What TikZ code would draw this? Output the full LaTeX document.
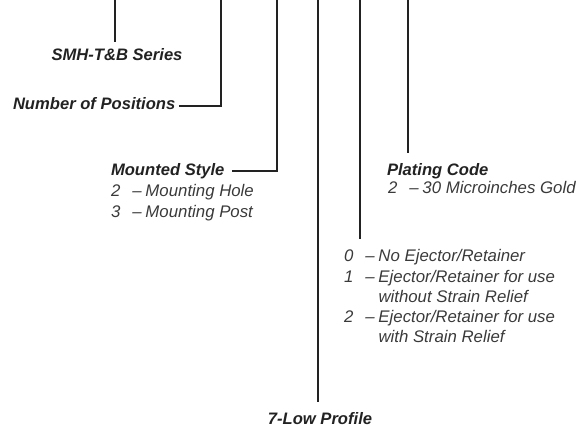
\documentclass[tikz,border=0pt]{standalone}
\usepackage{fontspec}
\setmainfont{Liberation Sans}
\definecolor{ink}{HTML}{222222}
\definecolor{itemink}{HTML}{3A3A3A}
\newcommand{\itm}[2]{\makebox[21.5pt][l]{#1}\makebox[13pt][l]{–}#2}
\newcommand{\cnt}[1]{\hspace*{34.5pt}#1}
\begin{document}
\begin{tikzpicture}[x=1pt,y=-1pt,
  hd/.style={inner sep=0pt, outer sep=0pt, font=\fontsize{16.6}{19}\selectfont\bfseries\itshape, text=ink},
  it/.style={inner sep=0pt, outer sep=0pt, font=\fontsize{16.8}{19}\selectfont\itshape, text=itemink, anchor=base west},
  lead/.style={draw=ink, line width=2.8pt, line join=miter}]
\useasboundingbox (0,0) rectangle (585,427);
% top ends of leaders
\coordinate (t1) at (115,0);
\coordinate (t2) at (221,0);
\coordinate (t3) at (277,0);
\coordinate (t4) at (318,0);
\coordinate (t5) at (360,0);
\coordinate (t6) at (408,0);
% texts
\node[hd, anchor=base] (smh) at (117,61) {SMH-T\&B Series};
\node[hd, anchor=base west] (npos) at (13,110) {Number of Positions};
\node[hd, anchor=base west] (mst) at (111,176) {Mounted Style};
\node[it] (m2) at (111,197) {\itm{2}{Mounting Hole}};
\node[it] (m3) at (111,218) {\itm{3}{Mounting Post}};
\node[hd, anchor=base west] (pc) at (387,176) {Plating Code};
\node[it] (p2) at (388,194) {\itm{2}{30 Microinches Gold}};
\node[it] (e0) at (344,261) {\itm{0}{No Ejector/Retainer}};
\node[it] (e1) at (344,282) {\itm{1}{Ejector/Retainer for use}};
\node[it] (e1b) at (344,302) {\cnt{without Strain Relief}};
\node[it] (e2) at (344,322) {\itm{2}{Ejector/Retainer for use}};
\node[it] (e2b) at (344,342) {\cnt{with Strain Relief}};
\node[hd, anchor=base] (lp) at (320,424) {7-Low Profile};
% leaders
\draw[lead] (t1) -- ([yshift=7pt]t1 |- smh.north);
\draw[lead] (t2) |- ([shift={(4,-4)}]npos.base east);
\draw[lead] (t3) |- ([shift={(8,-5)}]mst.base east);
\draw[lead] (t4) -- ([yshift=10pt]t4 |- lp.north);
\draw[lead] (t5) -- ([yshift=10pt]t5 |- e0.north);
\draw[lead] (t6) -- ([yshift=11pt]t6 |- pc.north);
\end{tikzpicture}
\end{document}
